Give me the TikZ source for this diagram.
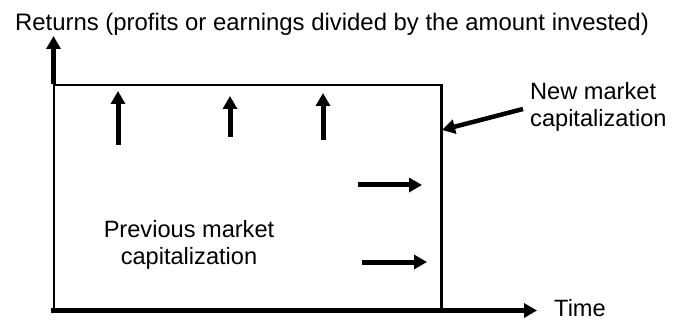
\documentclass[tikz,border=0pt]{standalone}
\usepackage{fontspec}
\setmainfont{Liberation Sans}
\usetikzlibrary{arrows.meta}
\begin{document}
\begin{tikzpicture}[x=1pt,y=-1pt,
  lbl/.style={inner sep=0pt,font=\fontsize{23.6}{27.5}\selectfont},
  fat/.style={line width=5pt,-{Triangle[width=14pt,length=13pt]}},
  axisline/.style={line width=5pt,-{Triangle[width=14pt,length=13pt]}},
  boxline/.style={line width=2.5pt}]
\useasboundingbox (0,0) rectangle (682,320);
% box
\node[boxline,draw,minimum width=387.5pt,minimum height=226.5pt,inner sep=0pt,anchor=north west] (box) at (52.5,84) {};
% axes
\coordinate (ytop) at (53.5,36);
\coordinate (ybase) at (53.5,84);
\coordinate (xstart) at (51,310.5);
\coordinate (xend) at (537,310.5);
\draw[axisline] (ybase) -- (ytop);
\draw[axisline] (xstart) -- (xend);
% texts
\node[lbl,anchor=base,font=\fontsize{23.9}{27.5}\selectfont] (title) at (332,31) {Returns (profits or earnings divided by the amount invested)};
\node[lbl,anchor=base west,align=left] (newcap) at (530,127) {New market\\capitalization};
\node[lbl,anchor=base,align=center] (prevcap) at (189,265) {Previous market\\capitalization};
\node[lbl,anchor=base west] (time) at (554,316) {Time};
% return arrows
\coordinate (a1s) at (118,145); \coordinate (a1e) at (118,91);
\coordinate (a2s) at (230,137); \coordinate (a2e) at (230,96);
\coordinate (a3s) at (323,140); \coordinate (a3e) at (323,93);
\draw[fat] (a1s) -- (a1e);
\draw[fat] (a2s) -- (a2e);
\draw[fat] (a3s) -- (a3e);
% time arrows
\coordinate (h1s) at (358,185); \coordinate (h1e) at (422,185);
\coordinate (h2s) at (362,262); \coordinate (h2e) at (427,262);
\draw[fat] (h1s) -- (h1e);
\draw[fat] (h2s) -- (h2e);
% new market arrow
\coordinate (nmtail) at (523,109);
\coordinate (nmtip) at (442,130);
\draw[fat,line width=4.5pt] (nmtail) -- (nmtip);
\end{tikzpicture}
\end{document}
